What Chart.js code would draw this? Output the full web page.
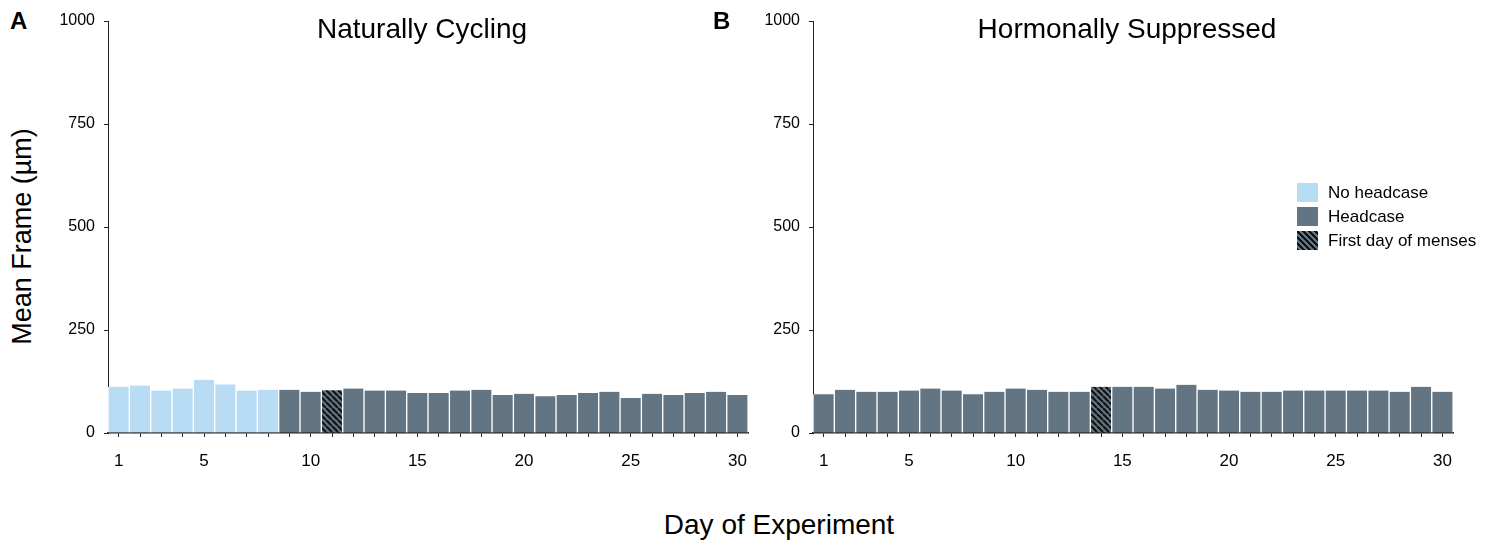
<!DOCTYPE html>
<html>
<head>
<meta charset="utf-8">
<script src="https://cdn.jsdelivr.net/npm/chart.js@4"></script>
<style>
    body { margin: 0; width: 1512px; height: 546px; background: #fff; position: relative; overflow: hidden;
        font-family: "Liberation Sans", Arial, Helvetica, sans-serif; color: #000; }
    .box { position: absolute; }
    .txt { position: absolute; white-space: nowrap; line-height: 1; }
    .panel { font-weight: bold; font-size: 24px; }
    .title { font-size: 28px; width: 500px; text-align: center; }
    .legend div { position: absolute; white-space: nowrap; }
    .sw { width: 21px; height: 19px; }
    .lt { font-size: 17px; line-height: 19px; left: 31px; }
</style>
</head>
<body>
<div class="box" style="left:50px;top:0;width:711px;height:480px"><canvas id="cycling"></canvas></div>
<div class="box" style="left:755px;top:0;width:711px;height:480px"><canvas id="suppressed"></canvas></div>

<div class="txt panel" style="left:10px;top:9px">A</div>
<div class="txt panel" style="left:713px;top:9px">B</div>
<div class="txt title" style="left:172px;top:15px">Naturally Cycling</div>
<div class="txt title" style="left:877px;top:15px">Hormonally Suppressed</div>
<div class="txt" style="font-size:27px;width:300px;text-align:center;left:-128px;top:223px;transform:rotate(-90deg)">Mean Frame (µm)</div>
<div class="txt" style="font-size:28px;width:400px;text-align:center;left:579px;top:511px">Day of Experiment</div>

<div class="legend" style="position:absolute;left:1297px;top:183px;width:200px;height:70px">
    <div class="sw" style="top:0;background:#b9dcf5"></div>
    <div class="lt" style="top:0">No headcase</div>
    <div class="sw" style="top:24px;background:#637583"></div>
    <div class="lt" style="top:24px">Headcase</div>
    <div class="sw" style="top:48px;background:repeating-linear-gradient(45deg,#111 0 2px,#637583 2px 4.2px)"></div>
    <div class="lt" style="top:48px">First day of menses</div>
</div>

<script>
// days of the experiment, 1..30
const days = [1,2,3,4,5,6,7,8,9,10,11,12,13,14,15,16,17,18,19,20,21,22,23,24,25,26,27,28,29,30]
const shownDays = [1, 5, 10, 15, 20, 25, 30]
const yTicks = [0, 250, 500, 750, 1000]

// mean frame (um) per day
const cyclingFrame = [112,115,103,108,129,118,103,105,105,100,104,108,103,103,97,97,103,105,92,95,89,92,97,100,85,95,92,97,100,92]
const suppressedFrame = [94,105,100,100,103,108,103,94,100,108,105,100,100,112,112,112,108,117,105,103,100,100,103,103,103,103,103,100,112,100]

// days scanned without the headcase, and first day of menses
const cyclingNoHeadcase = [1,2,3,4,5,6,7,8]
const suppressedNoHeadcase = []
const cyclingMenses = 11
const suppressedMenses = 14

const lightBlue = '#b9dcf5'
const slate = '#637583'

Chart.defaults.font.family = '"Liberation Sans", Arial, Helvetica, sans-serif'
Chart.defaults.color = '#000'

function makeHatch() {
    var s = 6
    var c = document.createElement('canvas')
    c.width = s
    c.height = s
    var ctx = c.getContext('2d')
    ctx.fillStyle = slate
    ctx.fillRect(0, 0, s, s)
    ctx.strokeStyle = '#111'
    ctx.lineWidth = 2.2
    for (var k = -s; k <= s; k += s) {
        ctx.beginPath()
        ctx.moveTo(k, 0)
        ctx.lineTo(k + s, s)
        ctx.stroke()
    }
    return ctx.createPattern(c, 'repeat')
}
const hatch = makeHatch()

function barColours(noHeadcase, mensesDay) {
    return days.map(function (d) {
        if (d == mensesDay) return hatch
        if (noHeadcase.includes(d)) return lightBlue
        return slate
    })
}

function makeChart(id, values, noHeadcase, mensesDay) {
    return new Chart(document.getElementById(id), {
        type: 'bar',
        data: {
            labels: days,
            datasets: [{
                data: values,
                backgroundColor: barColours(noHeadcase, mensesDay),
                borderColor: '#ffffff',
                borderWidth: { left: 1, right: 1, top: 0, bottom: 0 },
                borderSkipped: false,
                barPercentage: 1,
                categoryPercentage: 1
            }]
        },
        options: {
            responsive: true,
            maintainAspectRatio: false,
            animation: false,
            layout: { padding: { left: 0, right: 8, top: 21, bottom: 7 } },
            plugins: { legend: { display: false }, tooltip: { enabled: false } },
            scales: {
                x: {
                    grid: { display: true, drawOnChartArea: false, drawTicks: true, tickLength: 4, color: '#222', offset: false },
                    border: { display: true, color: '#222', width: 1.5 },
                    ticks: {
                        autoSkip: false,
                        maxRotation: 0,
                        padding: 14,
                        font: { size: 17 },
                        callback: function (value) {
                            var d = days[value]
                            return shownDays.includes(d) ? String(d) : ''
                        }
                    },
                    afterFit: function (scale) { scale.height = 40 }
                },
                y: {
                    min: 0,
                    max: 1000,
                    afterBuildTicks: function (scale) {
                        scale.ticks = yTicks.map(function (v) { return { value: v } })
                    },
                    grid: { display: true, drawOnChartArea: false, drawTicks: true, tickLength: 4, color: '#222' },
                    border: { display: true, color: '#222', width: 1 },
                    ticks: {
                        padding: 9,
                        font: { size: 16 },
                        callback: function (value) { return String(value) }
                    },
                    afterFit: function (scale) { scale.width = 58 }
                }
            }
        }
    })
}

makeChart('cycling', cyclingFrame, cyclingNoHeadcase, cyclingMenses)
makeChart('suppressed', suppressedFrame, suppressedNoHeadcase, suppressedMenses)
</script>
</body>
</html>
